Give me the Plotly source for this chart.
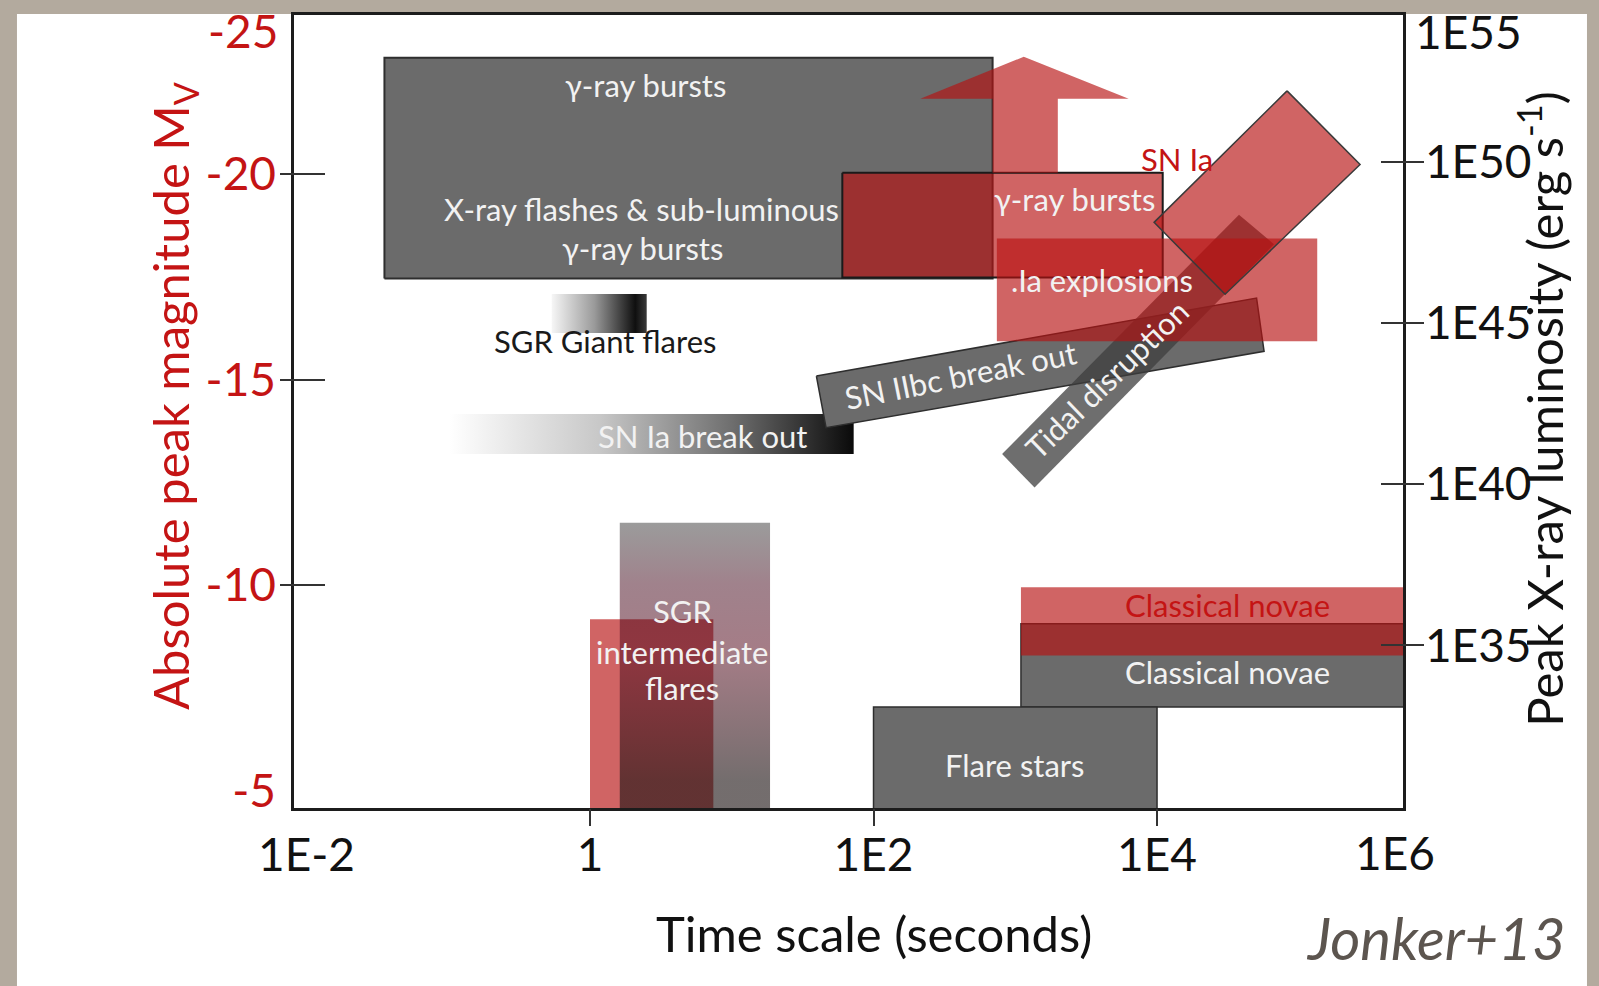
import plotly.graph_objects as go

# ---------------------------------------------------------------- axes ----
# time axis is log10(time scale / s); X-ray axis is log10(L_X / erg s^-1)
logt_ticks = [-2, 0, 2, 4]
logt_tick_text = ["1E-2", "1", "1E2", "1E4"]
logt_end_text = "1E6"            # printed at the right end of the time axis
mag_ticks = [-20, -15, -10, -5]
mag_tick_text = ["-20", "-15", "-10", "-5"]
mag_end_text = "-25"             # printed at the top of the magnitude axis
lum_ticks = [35, 40, 45, 50]
lum_tick_text = ["1E35", "1E40", "1E45", "1E50"]
lum_end_text = "1E55"            # printed at the top of the luminosity axis

logt_range = [-2.088, 5.735]
mag_range = [-4.58, -23.876]
lum_range = [29.954, 54.567]

# ------------------------------------------------ X-ray (grey) regions ----
# [log t min, log t max], [log L min, log L max]
grb_logt, grb_loglx = [-1.45, 2.84], [46.39, 53.24]
sgr_giant_logt, sgr_giant_loglx = [-0.27, 0.40], [44.70, 45.91]
sn_ia_bo_logt, sn_ia_bo_loglx = [-0.99, 1.86], [40.94, 42.18]
novae_x_logt, novae_x_loglx = [3.04, 5.76], [33.09, 35.67]
flare_logt, flare_loglx = [2.0, 4.0], [29.9, 33.09]
sgr_int_logt, sgr_int_loglx = [0.21, 1.27], [29.9, 38.81]
# tilted bands, corners as (log t, log L)
sn_iibc_logt = [1.597, 1.665, 4.755, 4.702]
sn_iibc_loglx = [43.36, 41.76, 44.13, 45.78]
tde_logt = [2.907, 3.136, 4.825, 4.578]
tde_loglx = [40.94, 39.90, 47.45, 48.37]

# ----------------------------------------------- optical (red) regions ----
# [log t min, log t max], [brightest M_V, faintest M_V]
grb_opt_logt, grb_opt_mag = [1.78, 4.04], [-20.04, -17.49]
ia_expl_logt, ia_expl_mag = [2.87, 5.13], [-18.44, -15.94]
novae_opt_logt, novae_opt_mag = [3.04, 5.76], [-9.95, -8.29]
sgr_int_opt_logt, sgr_int_opt_mag = [0.0, 0.87], [-9.17, -4.3]
# tilted SN Ia band, corners as (log t, M_V)
sn_ia_logt = [4.917, 5.432, 4.480, 3.979]
sn_ia_mag = [-22.03, -20.24, -17.08, -18.83]
# upward arrow above the optical GRB box: head left, tip, head right, shaft right, shaft left
arrow_logt = [2.33, 3.06, 3.80, 3.30, 2.84]
arrow_head_mag, arrow_tip_mag = -21.84, -22.86

# ------------------------------------------------------------- styles ----
FONT = "Lato, 'Open Sans', sans-serif"
RED_TXT = "#c41414"
RED_FILL = "rgba(183,17,17,0.65)"
GRAY = "#6b6b6b"
EDGE = "#2e2e2e"
INBOX = "#f2f2f2"
LINE = "#1c1c1c"
TICKFONT = 46
TITLEFONT = 49
LABELFONT = 31


def box(t, v):
    return [t[0], t[1], t[1], t[0], t[0]], [v[0], v[0], v[1], v[1], v[0]]


def poly(t, v):
    return list(t) + [t[0]], list(v) + [v[0]]


fig = go.Figure()


def area(xy, axis, fill=None, edge=None, width=0, gradient=None):
    xs, ys = xy
    kw = dict(x=xs, y=ys, xaxis="x", yaxis=axis, fill="toself",
              hoverinfo="skip", showlegend=False)
    if edge:
        kw["mode"] = "lines"
        kw["line"] = dict(color=edge, width=width)
    else:
        kw["mode"] = "none"
    if gradient:
        kw["fillgradient"] = gradient
    else:
        kw["fillcolor"] = fill
    fig.add_trace(go.Scatter(**kw))


# X-ray regions (luminosity axis, bottom layer)
area(box(grb_logt, grb_loglx), "y", GRAY, EDGE, 2)
area(box(sgr_giant_logt, sgr_giant_loglx), "y",
     gradient=dict(type="horizontal",
                   colorscale=[[0, "#f6f6f6"], [0.45, "#9a9a9a"], [0.88, "#0f0f0f"], [1, "#3a3a3a"]]))
area(box(sn_ia_bo_logt, sn_ia_bo_loglx), "y",
     gradient=dict(type="horizontal",
                   colorscale=[[0, "#ffffff"], [0.37, "#c8c8c8"], [0.7, "#6e6e6e"], [1, "#0a0a0a"]]))
area(poly(sn_iibc_logt, sn_iibc_loglx), "y", GRAY, EDGE, 1.5)
area(box(novae_x_logt, novae_x_loglx), "y", GRAY, EDGE, 1.5)
area(box(flare_logt, flare_loglx), "y", GRAY, EDGE, 1.5)
area(poly(tde_logt, tde_loglx), "y", "rgba(62,62,62,0.75)")

# optical regions (magnitude axis, drawn over the grey ones)
area(box(sgr_int_opt_logt, sgr_int_opt_mag), "y2", RED_FILL)
area(box(grb_opt_logt, grb_opt_mag), "y2", RED_FILL, "#1a1a1a", 2)
a = arrow_logt
base = grb_opt_mag[0]
area(([a[0], a[1], a[2], a[3], a[3], a[4], a[4], a[0]],
      [arrow_head_mag, arrow_tip_mag, arrow_head_mag, arrow_head_mag,
       base, base, arrow_head_mag, arrow_head_mag]), "y2", RED_FILL)
area(box(ia_expl_logt, ia_expl_mag), "y2", RED_FILL)
area(poly(sn_ia_logt, sn_ia_mag), "y2", RED_FILL, "#3a3a3a", 1.5)
area(box(novae_opt_logt, novae_opt_mag), "y2", RED_FILL)

# SGR intermediate flares (X-ray), translucent shaded box on top
area(box(sgr_int_logt, sgr_int_loglx), "y3",
     gradient=dict(type="vertical",
                   colorscale=[[0, "rgba(30,20,20,0.62)"], [0.1, "rgba(30,20,20,0.62)"],
                               [0.55, "rgba(91,18,36,0.55)"], [0.79, "rgba(65,5,25,0.5)"],
                               [1, "rgba(33,33,33,0.45)"]]))

# empty traces that carry the tick-mark axes
for ax_x, ax_y in (("x", "y4"), ("x", "y5"), ("x2", "y")):
    fig.add_trace(go.Scatter(x=[None], y=[None], xaxis=ax_x, yaxis=ax_y, mode="markers",
                             hoverinfo="skip", showlegend=False))

# ------------------------------------------------------------- labels ----
def label(text, x, y, yref, color=INBOX, angle=0, size=LABELFONT):
    return dict(text=text, x=x, y=y, xref="x", yref=yref, showarrow=False,
                textangle=angle, xanchor="center", yanchor="middle",
                font=dict(family=FONT, size=size, color=color))


def paper_text(text, x, y, size, color, angle=0, xanchor="center", yanchor="middle",
               xshift=0, yshift=0, style="normal"):
    return dict(text=text, x=x, y=y, xref="paper", yref="paper", showarrow=False,
                textangle=angle, xanchor=xanchor, yanchor=yanchor,
                xshift=xshift, yshift=yshift,
                font=dict(family=FONT, size=size, color=color, style=style))


annotations = [
    label("γ-ray bursts", 0.395, 52.40, "y"),
    label("X-ray flashes &amp; sub-luminous", 0.36, 48.56, "y"),
    label("γ-ray bursts", 0.367, 47.32, "y"),
    label("γ-ray bursts", 3.421, -19.39, "y2"),
    label(".Ia explosions", 3.612, -17.44, "y2"),
    label("SN Ia", 4.141, -20.38, "y2", color=RED_TXT),
    label("SGR Giant flares", 0.106, 44.44, "y", color="#1a1a1a"),
    label("SN Ia break out", 0.794, 41.50, "y"),
    label("SN IIbc break out", 2.617, 43.38, "y", angle=-11.4),
    label("Tidal disruption", 3.647, 43.26, "y", angle=-44),
    label("SGR", 0.65, 36.08, "y"),
    label("intermediate", 0.65, 34.79, "y"),
    label("flares", 0.65, 33.67, "y"),
    label("Classical novae", 4.494, -9.51, "y2", color=RED_TXT),
    label("Classical novae", 4.494, 34.17, "y"),
    label("Flare stars", 2.996, 31.28, "y"),
]

annotations += [
    paper_text(mag_end_text, 0, 1, TICKFONT, RED_TXT, xanchor="right", xshift=-14, yshift=-15),
    paper_text(lum_end_text, 1, 1, TICKFONT, "#111", xanchor="left", xshift=10, yshift=-16),
    paper_text(logt_end_text, 1, 0, TICKFONT, "#111", xshift=-8, yshift=-44),
    paper_text("Absolute peak magnitude M<sub>V</sub>", -0.1091, 0.5195, TITLEFONT,
               RED_TXT, angle=-90),
    paper_text("Peak X-ray luminosity (erg s<sup>-1</sup>)", 1.124, 0.503, TITLEFONT,
               "#111", angle=-90),
    paper_text("Time scale (seconds)", 0.523, -0.157, TITLEFONT, "#111"),
    paper_text("Jonker+13", 1.0298, -0.1635, 58, "#5c554f", style="italic"),
]

axis_common = dict(showgrid=False, zeroline=False, fixedrange=True)

fig.update_layout(
    width=1599, height=986, autosize=False,
    margin=dict(l=294, r=196, t=13, b=178),
    paper_bgcolor="#b3aa9e", plot_bgcolor="white",
    showlegend=False,
    xaxis=dict(range=logt_range, tickmode="array", tickvals=logt_ticks,
               ticktext=logt_tick_text, ticks="", ticklabelstandoff=5,
               showline=True, linecolor=LINE, linewidth=2.5, mirror=True,
               tickfont=dict(family=FONT, size=TICKFONT, color="#111"), **axis_common),
    xaxis2=dict(range=logt_range, overlaying="x", anchor="y", side="bottom",
                tickmode="array", tickvals=logt_ticks[1:], ticks="outside", ticklen=17,
                tickwidth=2, tickcolor="#333", showticklabels=False, showline=False,
                **axis_common),
    yaxis=dict(range=lum_range, side="right", anchor="x", tickmode="array",
               tickvals=lum_ticks, ticktext=lum_tick_text, ticks="",
               ticklabelstandoff=10, showline=True, linecolor=LINE, linewidth=2.5,
               tickfont=dict(family=FONT, size=TICKFONT, color="#111"), **axis_common),
    yaxis2=dict(range=mag_range, overlaying="y", side="left", anchor="x",
                tickmode="array", tickvals=mag_ticks, ticktext=mag_tick_text, ticks="",
                ticklabelstandoff=6, showline=True, linecolor=LINE, linewidth=2.5,
                tickfont=dict(family=FONT, size=TICKFONT, color=RED_TXT), **axis_common),
    yaxis3=dict(range=lum_range, overlaying="y", side="right", visible=False, **axis_common),
    yaxis4=dict(range=mag_range, overlaying="y", anchor="free", position=0.028, side="left",
                tickmode="array", tickvals=mag_ticks[:3], ticks="outside", ticklen=45,
                tickwidth=2, tickcolor="#333", showticklabels=False, showline=False,
                **axis_common),
    yaxis5=dict(range=lum_range, overlaying="y", anchor="free", position=0.979, side="right",
                tickmode="array", tickvals=lum_ticks, ticks="outside", ticklen=43,
                tickwidth=2, tickcolor="#333", showticklabels=False, showline=False,
                **axis_common),
    shapes=[dict(type="rect", xref="paper", yref="paper", x0=-0.2498, x1=1.1659,
                 y0=-0.3, y1=1.00126, fillcolor="white", line_width=0, layer="below")],
    annotations=annotations,
)

fig.write_html("out.html")
